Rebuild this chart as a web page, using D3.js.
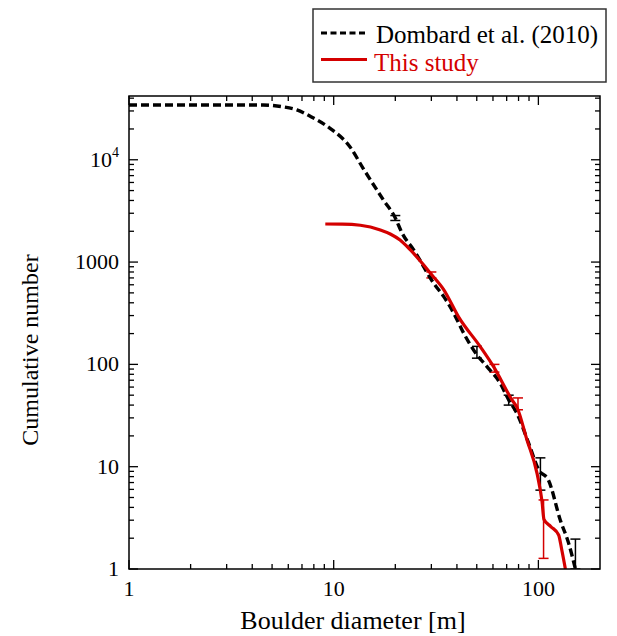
<!DOCTYPE html>
<html><head><meta charset="utf-8">
<script src="https://cdn.jsdelivr.net/npm/d3@7"></script>
<style>body{margin:0;background:#fff}</style>
</head><body>
<svg id="chart" width="617" height="636"></svg>
<script>
const seriesNames = ["Dombard et al. (2010)", "This study"];
const dombardD = [1, 2, 3, 4.52, 5.6, 6.61, 7.68, 9.6, 12.0, 13.9, 17.5, 20, 21.6, 24.6, 30.8, 34.5, 38.6, 43.2, 50.1, 56.1, 65.2, 71.6, 78.5, 89.7, 100.4, 112, 128, 140.6, 151.7];
const dombardN = [34350, 34350, 34350, 34300, 33000, 30700, 26600, 20300, 13400, 8300, 4040, 2700, 1914, 1313, 621, 459, 316, 201, 124, 95, 65, 45, 33.3, 16.9, 9.3, 7.4, 3.0, 1.78, 1];
const studyD = [9.1, 11, 13.5, 16.9, 18.9, 21.1, 23.7, 30.2, 34.4, 40.8, 52, 60.4, 74.3, 78.6, 88, 98.5, 104.2, 106.5, 115, 125.6, 130, 135.5];
const studyN = [2356, 2350, 2290, 2060, 1880, 1640, 1313, 748, 542, 290, 149, 95, 45, 38, 18.2, 8.6, 4.55, 3.05, 2.6, 2.15, 1.55, 1];
const dombardErrD = [20, 50.1, 71.6, 102.3, 151.7];
const dombardErrLo = [2550, 115, 40, 5.9, 1];
const dombardErrHi = [2850, 150, 50, 12.2, 1.96];
const studyErrD = [30, 61, 79.5, 106];
const studyErrLo = [700, 84, 36, 1.27];
const studyErrHi = [800, 100, 47, 4.73];
const xTickVals = [1, 10, 100];
const xTickLabels = ["1", "10", "100"];
const yTickVals = [1, 10, 100, 1000, 10000];
const yTickLabels = ["1", "10", "100", "1000", "10^4"];

const svg = d3.select("#chart");
const L = 129, R = 600, T = 96, B = 569;
const x = d3.scaleLog().domain([1, 200]).range([L, R]);
const y = d3.scaleLog().domain([1, 42000]).range([B, T]);
const serif = "Liberation Serif, Times New Roman, serif";
const red = "#d40000";

svg.append("clipPath").attr("id","clip").append("rect")
  .attr("x", L).attr("y", T).attr("width", R-L).attr("height", B-T);

const xMinor = [], yMinor = [];
for (let e = 0; e < 3; e++) for (let k = 2; k <= 9; k++) { const v = k*Math.pow(10,e); if (v < 200) xMinor.push(v); }
for (let e = 0; e < 5; e++) for (let k = 2; k <= 9; k++) { const v = k*Math.pow(10,e); if (v < 42000) yMinor.push(v); }

const g = svg.append("g");
function addTicks(vals, len) {
  vals.forEach(v => {
    const px = x(v);
    g.append("line").attr("x1",px).attr("x2",px).attr("y1",B).attr("y2",B-len).attr("stroke","#000").attr("stroke-width",1.3);
    g.append("line").attr("x1",px).attr("x2",px).attr("y1",T).attr("y2",T+len).attr("stroke","#000").attr("stroke-width",1.3);
  });
}
function addYTicks(vals, len) {
  vals.forEach(v => {
    const py = y(v);
    g.append("line").attr("y1",py).attr("y2",py).attr("x1",L).attr("x2",L+len).attr("stroke","#000").attr("stroke-width",1.3);
    g.append("line").attr("y1",py).attr("y2",py).attr("x1",R).attr("x2",R-len).attr("stroke","#000").attr("stroke-width",1.3);
  });
}
addTicks(xTickVals, 9); addTicks(xMinor, 5);
addYTicks(yTickVals, 9); addYTicks(yMinor, 5);

xTickVals.forEach((v,i) => {
  g.append("text").attr("x", x(v)).attr("y", 596).attr("text-anchor","middle")
   .style("font-family", serif).attr("font-size", 22).text(xTickLabels[i]);
});
yTickVals.forEach((v,i) => {
  const t = g.append("text").attr("x", 119).attr("y", y(v)+7).attr("text-anchor","end")
   .style("font-family", serif).attr("font-size", 22);
  const lab = yTickLabels[i];
  if (lab.includes("^")) {
    const [b, ex] = lab.split("^");
    t.append("tspan").text(b);
    t.append("tspan").attr("dy", -10).attr("font-size", 14).text(ex);
  } else t.text(lab);
});

svg.append("text").attr("x", 353).attr("y", 629).attr("text-anchor","middle")
  .style("font-family", serif).attr("font-size", 26).text("Boulder diameter [m]");
svg.append("text").attr("transform","translate(38,350) rotate(-90)").attr("text-anchor","middle")
  .style("font-family", serif).attr("font-size", 24).text("Cumulative number");

const plot = svg.append("g").attr("clip-path","url(#clip)");
const line = d3.line().curve(d3.curveMonotoneX).x(d => x(d[0])).y(d => y(d[1]));
const dData = dombardD.map((d,i) => [d, dombardN[i]]);
const sData = studyD.map((d,i) => [d, studyN[i]]);

function errBars(ds, lo, hi, color, w) {
  ds.forEach((d,i) => {
    const px = x(d);
    plot.append("line").attr("x1",px).attr("x2",px).attr("y1",y(lo[i])).attr("y2",y(hi[i])).attr("stroke",color).attr("stroke-width",1.5);
    [lo[i], hi[i]].forEach(v => plot.append("line").attr("x1",px-w).attr("x2",px+w).attr("y1",y(v)).attr("y2",y(v)).attr("stroke",color).attr("stroke-width",1.5));
  });
}
errBars(dombardErrD, dombardErrLo, dombardErrHi, "#000", 5);
errBars(studyErrD, studyErrLo, studyErrHi, red, 5);

plot.append("path").datum(dData).attr("d", line).attr("fill","none").attr("stroke","#000")
  .attr("stroke-width",3.4).attr("stroke-dasharray","8,4");
plot.append("path").datum(sData).attr("d", line).attr("fill","none").attr("stroke",red)
  .attr("stroke-width",3.2);

svg.append("rect").attr("x",L).attr("y",T).attr("width",R-L).attr("height",B-T)
  .attr("fill","none").attr("stroke","#000").attr("stroke-width",1.5);

const lg = svg.append("g");
lg.append("rect").attr("x",313).attr("y",9).attr("width",293).attr("height",73)
  .attr("fill","#fff").attr("stroke","#333").attr("stroke-width",1.5);
lg.append("line").attr("x1",321).attr("x2",368).attr("y1",33).attr("y2",33)
  .attr("stroke","#000").attr("stroke-width",3).attr("stroke-dasharray","6,3.5");
lg.append("text").attr("x",376).attr("y",43).style("font-family",serif).attr("font-size",25).attr("fill","#000").text(seriesNames[0]);
lg.append("line").attr("x1",321).attr("x2",367).attr("y1",59.5).attr("y2",59.5)
  .attr("stroke",red).attr("stroke-width",3);
lg.append("text").attr("x",374).attr("y",71).style("font-family",serif).attr("font-size",25).attr("fill",red).text(seriesNames[1]);
</script>
</body></html>
